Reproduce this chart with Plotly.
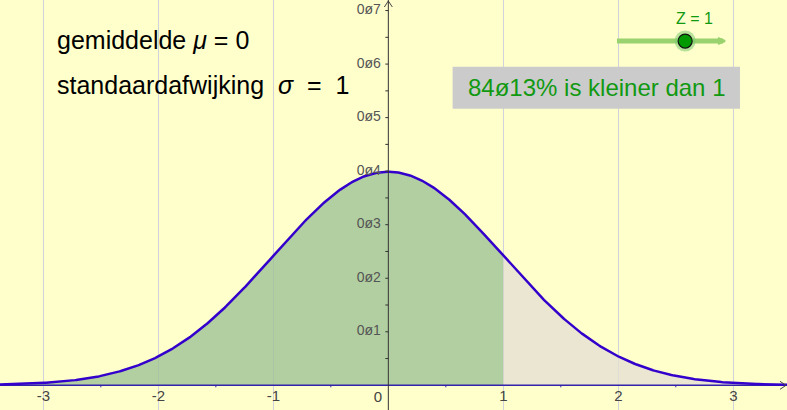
import math
import numpy as np
import plotly.graph_objects as go

# --- data ---
MU = 0
SIGMA = 1
Z = 1
SLIDER_MIN, SLIDER_MAX = -3.5, 3.5
x_ticks = [-3, -2, -1, 1, 2, 3]
x_ticktext = ['-3', '-2', '-1', '1', '2', '3']
y_ticks = [0.1, 0.2, 0.3, 0.4, 0.5, 0.6, 0.7]
y_ticktext = ['0ø1', '0ø2', '0ø3', '0ø4', '0ø5', '0ø6', '0ø7']

# view window (as in the GeoGebra graphics view)
XMIN, XMAX = -3.377, 3.467
YMIN, YMAX = -0.0461, 0.7197

BG = '#FFFFCC'
CURVE = '#3300CC'
GREEN = '#119911'
FONT = 'Liberation Sans'

def pdf(x):
    return np.exp(-0.5 * ((x - MU) / SIGMA) ** 2) / (SIGMA * math.sqrt(2 * math.pi))

xs = np.linspace(XMIN, XMAX, 600)
ys = pdf(xs)
left = xs <= Z
xl = np.append(xs[left], Z)
xr = np.insert(xs[~left], 0, Z)

p = 0.5 * (1 + math.erf((Z - MU) / (SIGMA * math.sqrt(2))))
pct = ('%.2f' % (100 * p)).replace('.', 'ø')

fig = go.Figure()

# shaded areas
fig.add_trace(go.Scatter(x=xl, y=pdf(xl), mode='lines', line=dict(width=0),
                         fill='tozeroy', fillcolor='rgba(152,191,147,0.75)',
                         hoverinfo='skip'))
fig.add_trace(go.Scatter(x=xr, y=pdf(xr), mode='lines', line=dict(width=0),
                         fill='tozeroy', fillcolor='rgba(227,222,211,0.75)',
                         hoverinfo='skip'))

# x-axis line (blue) and curve
fig.add_trace(go.Scatter(x=[XMIN, XMAX], y=[0, 0], mode='lines',
                         line=dict(color='#3322AA', width=1.5), hoverinfo='skip'))
fig.add_trace(go.Scatter(x=xs, y=ys, mode='lines',
                         line=dict(color=CURVE, width=2.5), hoverinfo='skip'))

# axis arrows
dx = (XMAX - XMIN) / 787
dy = (YMAX - YMIN) / 410
fig.add_trace(go.Scatter(x=[XMAX - 7 * dx, XMAX - 1 * dx, XMAX - 7 * dx],
                         y=[4 * dy, 0, -4 * dy], mode='lines',
                         line=dict(color='#444444', width=1), hoverinfo='skip'))
fig.add_trace(go.Scatter(x=[-4 * dx, 0, 4 * dx],
                         y=[YMAX - 7 * dy, YMAX - 1 * dy, YMAX - 7 * dy], mode='lines',
                         line=dict(color='#444444', width=1), hoverinfo='skip'))

# slider
sx0 = (617 - 388.3) / 115
sx1 = (723 - 388.3) / 115
sy = (385.3 - 41) / 535.4
spos = sx0 + (Z - SLIDER_MIN) / (SLIDER_MAX - SLIDER_MIN) * (sx1 - sx0)
fig.add_trace(go.Scatter(x=[sx0, sx1], y=[sy, sy], mode='lines',
                         line=dict(color='#99D26E', width=5), hoverinfo='skip'))
fig.add_trace(go.Scatter(x=[sx1 - 5 * dx, sx1 + 2 * dx, sx1 - 5 * dx],
                         y=[sy + 3 * dy, sy, sy - 3 * dy], mode='lines',
                         line=dict(color='#99D26E', width=2), hoverinfo='skip'))
fig.add_trace(go.Scatter(x=[spos], y=[sy], mode='markers',
                         marker=dict(size=21, color='rgba(120,200,110,0.55)'),
                         hoverinfo='skip'))
fig.add_trace(go.Scatter(x=[spos], y=[sy], mode='markers',
                         marker=dict(size=14, color='#009900',
                                     line=dict(color='#111111', width=1.2)),
                         hoverinfo='skip'))

# tick labels
fig.add_trace(go.Scatter(x=x_ticks, y=[-0.022] * len(x_ticks), mode='text',
                         text=x_ticktext, textposition='middle center',
                         textfont=dict(family=FONT, size=15, color='#444444'),
                         hoverinfo='skip'))
fig.add_trace(go.Scatter(x=[-0.065] * len(y_ticks), y=y_ticks, mode='text',
                         text=y_ticktext, textposition='middle left',
                         textfont=dict(family=FONT, size=14, color='#555555'),
                         hoverinfo='skip'))
fig.add_trace(go.Scatter(x=[-0.09], y=[-0.024], mode='text', text=['0'],
                         textfont=dict(family=FONT, size=15, color='#444444'),
                         hoverinfo='skip'))

# texts
fig.add_annotation(x=-2.898, y=0.645, xanchor='left', yanchor='middle',
                   text='gemiddelde <i>μ</i> = 0', showarrow=False,
                   font=dict(family=FONT, size=25, color='black'))
fig.add_annotation(x=-2.898, y=0.561, xanchor='left', yanchor='middle',
                   text='standaardafwijking  <i>σ</i>  =  1', showarrow=False,
                   font=dict(family=FONT, size=25, color='black'))
fig.add_annotation(x=(694 - 388.3) / 115, y=(385.3 - 18) / 535.4,
                   text='Z = %d' % Z, showarrow=False,
                   font=dict(family=FONT, size=16, color=GREEN))

# result box
fig.add_shape(type='rect', x0=0.559, x1=3.058, y0=0.5166, y1=0.5950,
              fillcolor='#CBCBCB', line=dict(width=0), layer='above')
fig.add_annotation(x=(0.559 + 3.058) / 2, y=(0.5166 + 0.5950) / 2,
                   text='%s%% is kleiner dan %d' % (pct, Z), showarrow=False,
                   font=dict(family=FONT, size=24, color=GREEN))

fig.update_layout(
    width=787, height=410,
    margin=dict(l=0, r=0, t=0, b=0),
    paper_bgcolor=BG, plot_bgcolor=BG,
    showlegend=False,
    xaxis=dict(range=[XMIN, XMAX], tickvals=x_ticks, showticklabels=False,
               showgrid=True, gridcolor='#D2D2DC', gridwidth=1,
               zeroline=False, showline=False, fixedrange=True),
    yaxis=dict(range=[YMIN, YMAX], showgrid=False, showticklabels=False,
               zeroline=False, showline=False, fixedrange=True),
)

# y-axis line with ticks on the left
fig.add_shape(type='line', x0=0, x1=0, y0=YMIN, y1=YMAX,
              line=dict(color='#333333', width=1))
for v in np.arange(0.05, 0.71, 0.05):
    fig.add_shape(type='line', x0=-3 * dx, x1=0, y0=v, y1=v,
                  line=dict(color='#333333', width=1))
for v in [-2.5, -1.5, -0.5, 0.5, 1.5, 2.5]:
    fig.add_shape(type='line', x0=v, x1=v, y0=0, y1=-2 * dy,
                  line=dict(color='#3322AA', width=1))

# no default page margin so the figure sits at the top-left corner
fig.write_html('out.html', config={'displayModeBar': False},
               post_script="document.body.style.margin='0px';")
